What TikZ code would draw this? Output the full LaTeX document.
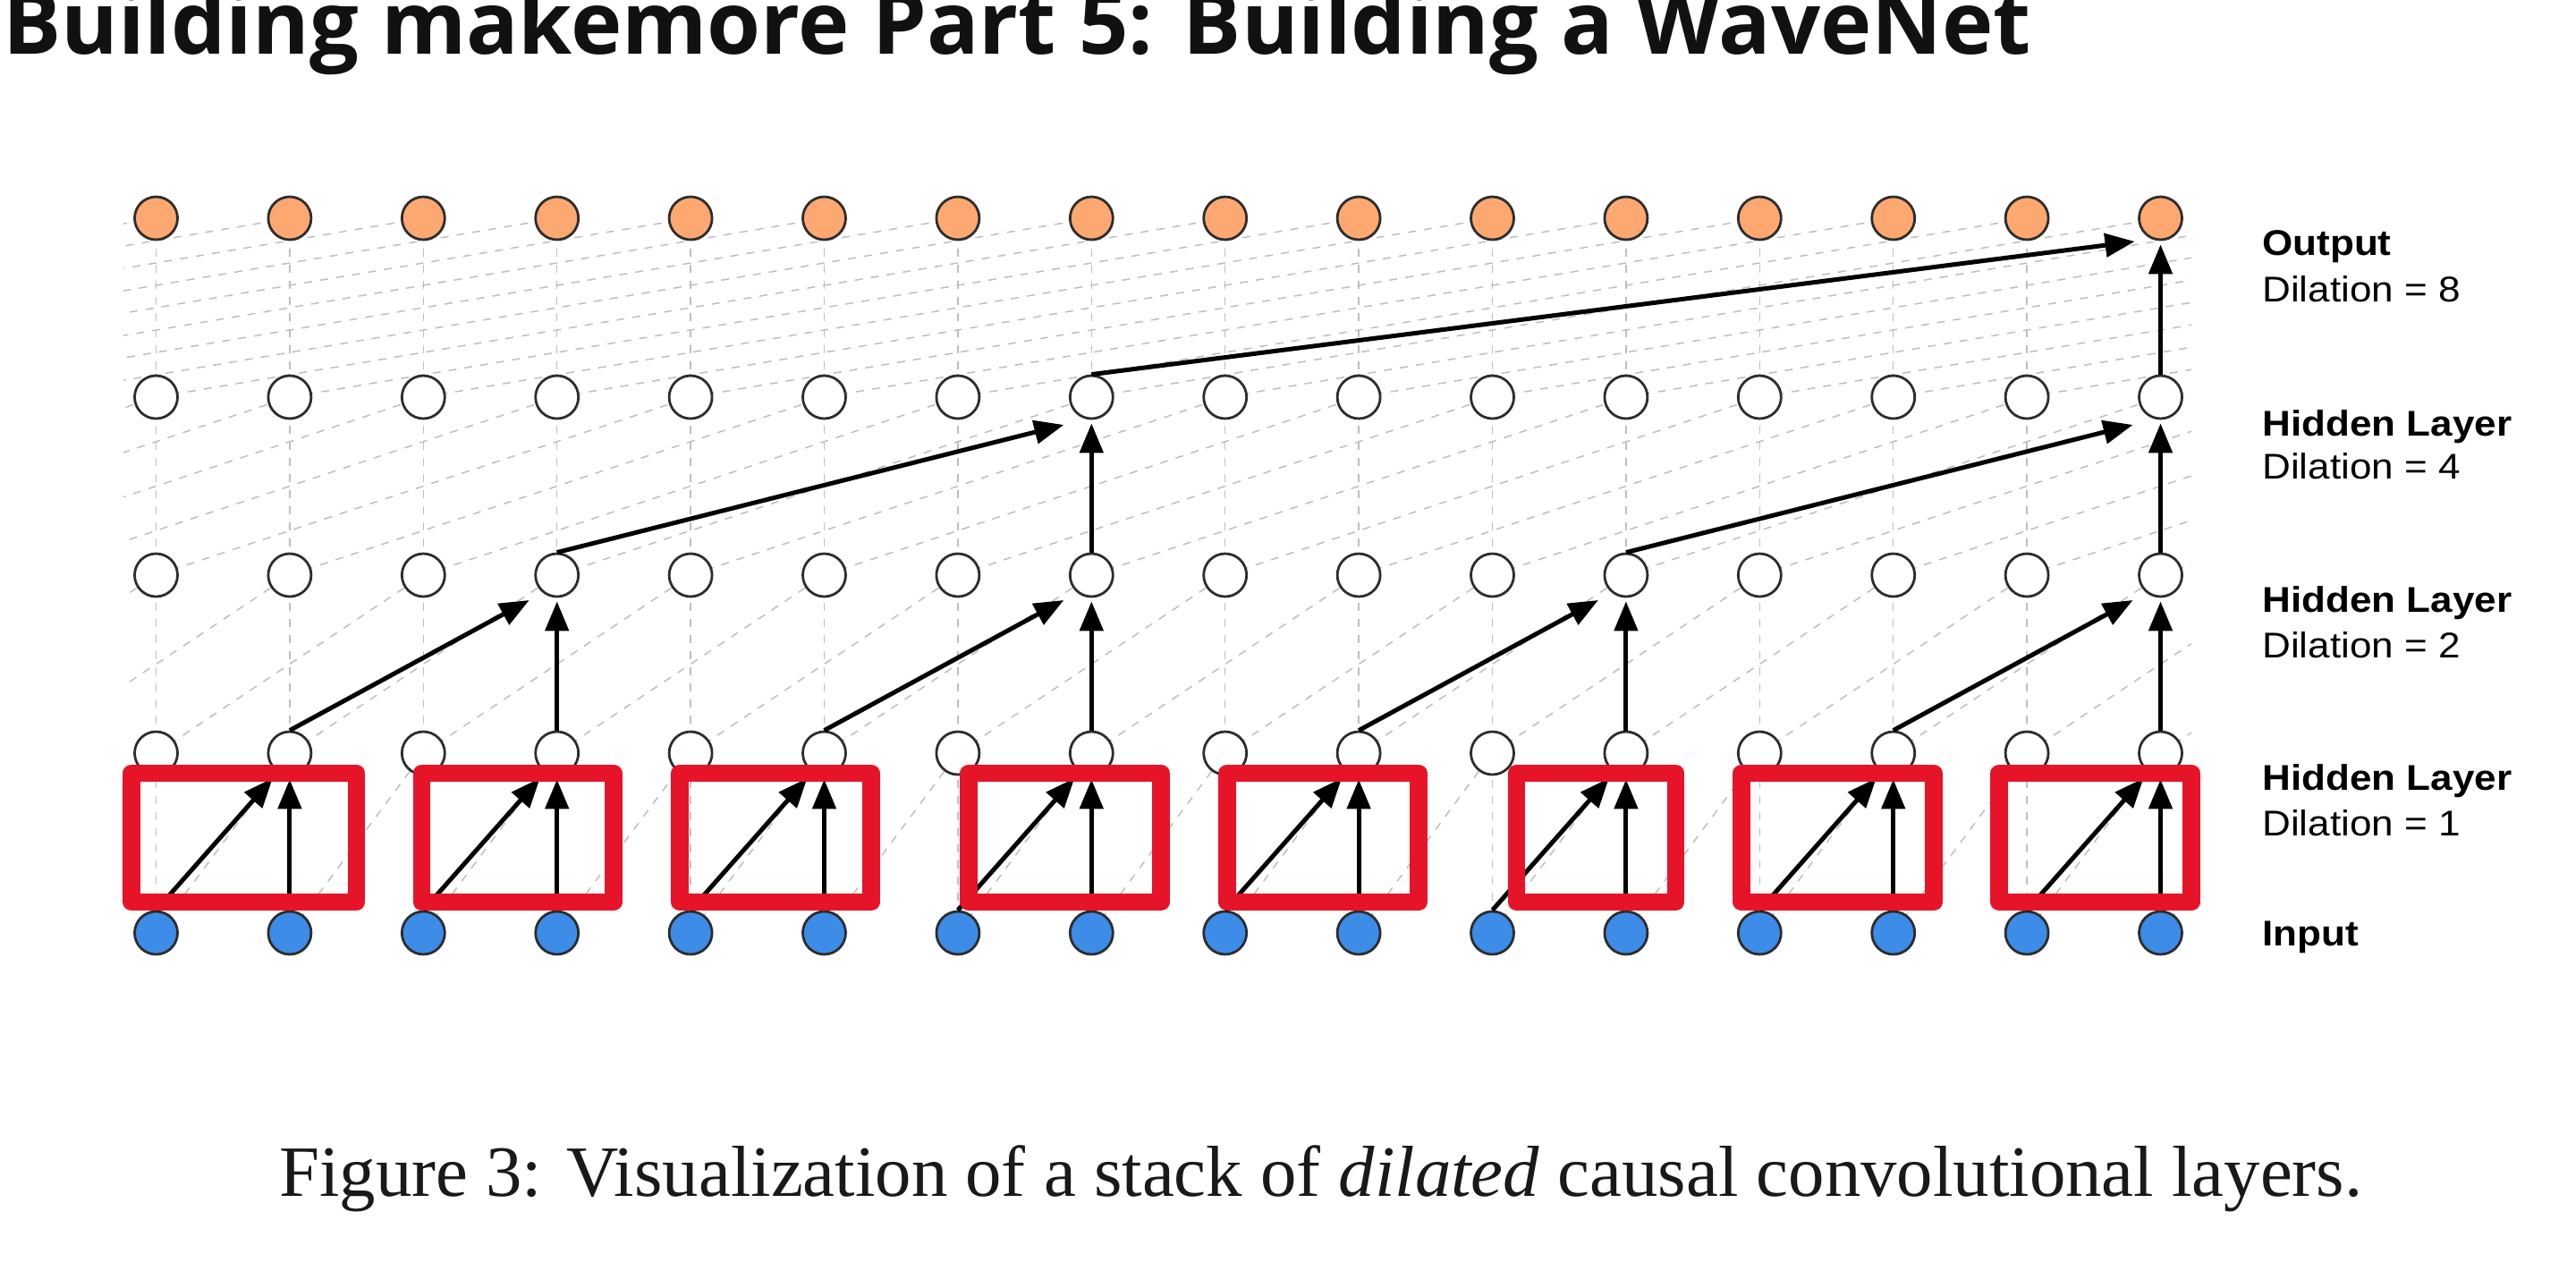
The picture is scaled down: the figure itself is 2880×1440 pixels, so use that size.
\documentclass[tikz,border=0pt]{standalone}
\usepackage{fontspec}
\setmainfont{Liberation Serif}
\newfontfamily\titlefont{Open Sans}
\newfontfamily\lblfont[FakeStretch=1.1]{Liberation Sans}
\usetikzlibrary{arrows.meta,calc,backgrounds}
\definecolor{outorange}{RGB}{253,168,112}
\definecolor{inblue}{RGB}{60,140,232}
\definecolor{boxred}{RGB}{230,20,40}
\definecolor{gridgrey}{RGB}{190,190,190}
\definecolor{ringgrey}{RGB}{45,45,45}
\definecolor{titleblack}{RGB}{17,17,17}
\definecolor{captionblack}{RGB}{25,25,25}
\begin{document}
\begin{tikzpicture}[x=0.5pt,y=-0.5pt,
  unit/.style={circle,draw=ringgrey,line width=1.4pt,minimum size=24pt,inner sep=0pt},
  inunit/.style={unit,fill=inblue},
  hidunit/.style={unit,fill=white},
  outunit/.style={unit,fill=outorange},
  gridline/.style={draw=gridgrey,line width=0.75pt,dash pattern=on 4.5pt off 4.5pt},
  conn/.style={draw=black,line width=2.5pt,-{Triangle[length=16.5pt,width=13pt]}},
  vconn/.style={conn,shorten >=2pt},
  redbox/.style={draw=boxred,line width=9.75pt,line join=round},
  lblbold/.style={anchor=base west,inner sep=0pt,font=\lblfont\bfseries\fontsize{20pt}{24pt}\selectfont},
  lblreg/.style={anchor=base west,inner sep=0pt,font=\lblfont\fontsize{20pt}{24pt}\selectfont},
]
\useasboundingbox (0,0) rectangle (2880,1440);

% grid coordinates (column index k = column + 8)
\foreach \r/\yy in {0/1043,1/842,2/643,3/444,4/244}{
  \foreach \k in {0,...,31}{
    \coordinate (p-\r-\k) at ({174.5+149.4*(\k-8)},\yy);
  }
}

% units
\foreach \i [evaluate=\i as \k using int(\i+8)] in {0,...,15}{
  \node[inunit]  (n-0-\i) at (p-0-\k) {};
  \node[hidunit] (n-1-\i) at (p-1-\k) {};
  \node[hidunit] (n-2-\i) at (p-2-\k) {};
  \node[hidunit] (n-3-\i) at (p-3-\k) {};
  \node[outunit] (n-4-\i) at (p-4-\k) {};
}

% dashed background connections
\begin{scope}[on background layer]
  \clip (138,0) rectangle (2450,1440);
  \foreach \k in {8,...,23}{
    \draw[gridline] (p-0-\k) -- (p-4-\k);
  }
  \foreach \r/\d in {0/1,1/2,2/4,3/8}{
    \pgfmathtruncatemacro\ru{\r+1}
    \foreach \k in {8,...,31}{
      \pgfmathtruncatemacro\kl{\k-\d}
      \draw[gridline] (p-\r-\kl) -- (p-\ru-\k);
    }
  }
\end{scope}

% active connections
\foreach \j in {1,3,...,15}{
  \pgfmathtruncatemacro\s{\j-1}
  \draw[conn] (n-0-\s.north) -- ($(n-1-\j.center)+(-19,28)$);
  \draw[vconn] (n-0-\j.north) -- (n-1-\j.south);
}
\foreach \j in {3,7,11,15}{
  \pgfmathtruncatemacro\s{\j-2}
  \draw[conn] (n-1-\s.north) -- ($(n-2-\j.center)+(-31,28)$);
  \draw[vconn] (n-1-\j.north) -- (n-2-\j.south);
}
\foreach \j in {7,15}{
  \pgfmathtruncatemacro\s{\j-4}
  \draw[conn] (n-2-\s.north) -- ($(n-3-\j.center)+(-31,31)$);
  \draw[vconn] (n-2-\j.north) -- (n-3-\j.south);
}
\draw[conn] (n-3-7.north) -- ($(n-4-15.center)+(-29,26)$);
\draw[vconn] (n-3-15.north) -- (n-4-15.south);

% red highlight boxes
\foreach \xa/\xb in {147/398.5,471.5/686,760/974,1083/1298,1372/1586,1695.5/1873.5,1947/2162,2235/2450}{
  \draw[redbox] (\xa,864.5) rectangle (\xb,1008.5);
}

% layer labels
\node[lblbold] (lab-out)  at (2529,285) {Output};
\node[lblreg]  (lab-outd) at (2529,337) {Dilation = 8};
\node[lblbold] (lab-h3)   at (2529,487) {Hidden Layer};
\node[lblreg]  (lab-h3d)  at (2529,535) {Dilation = 4};
\node[lblbold] (lab-h2)   at (2529,684) {Hidden Layer};
\node[lblreg]  (lab-h2d)  at (2529,735) {Dilation = 2};
\node[lblbold] (lab-h1)   at (2529,883) {Hidden Layer};
\node[lblreg]  (lab-h1d)  at (2529,934) {Dilation = 1};
\node[lblbold] (lab-in)   at (2529,1057) {Input};

% title and caption
\node[anchor=base west,inner sep=0pt,text=titleblack,font=\titlefont\bfseries\fontsize{48.5pt}{58pt}\selectfont] (title) at (3,60) {Building makemore Part 5: Building a WaveNet};
\node[anchor=base west,inner sep=0pt,text=captionblack,font=\fontsize{40.4pt}{48pt}\selectfont] (caption) at (312,1337.5) {Figure 3: Visualization of a stack of \textit{dilated} causal convolutional layers.};
\end{tikzpicture}
\end{document}
